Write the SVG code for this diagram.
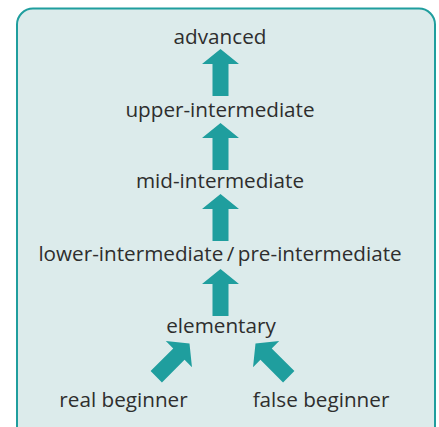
<svg xmlns="http://www.w3.org/2000/svg" width="439" height="427" viewBox="0 0 439 427">
<style>
.lbl{font-family:"Open Sans","Noto Sans","DejaVu Sans",sans-serif;font-size:20.7px;fill:#2e2e2e;text-anchor:middle}
.arr{fill:#1f9e9e}
</style>
<defs>
<path id="up" d="M0,0 L18.5,15 L8,15 L8,47 L-8,47 L-8,15 L-18.5,15 Z"/>
</defs>
<rect x="17" y="8.5" width="418" height="460" rx="16" ry="16" fill="#dcebeb" stroke="#1f9e9e" stroke-width="2"/>
<g id="connectors" class="arr">
<use href="#up" transform="translate(220.5,49)"/>
<use href="#up" transform="translate(220.5,123)"/>
<use href="#up" transform="translate(220.5,194)"/>
<use href="#up" transform="translate(220.5,269)"/>
<use href="#up" transform="translate(189.5,343.5) rotate(45)"/>
<use href="#up" transform="translate(255.5,343.5) rotate(-45)"/>
</g>
<g id="advanced"><text class="lbl" x="220" y="44">advanced</text></g>
<g id="upper-intermediate"><text class="lbl" x="220" y="117">upper-intermediate</text></g>
<g id="mid-intermediate"><text class="lbl" x="220" y="188">mid-intermediate</text></g>
<g id="lower-intermediate"><text class="lbl" x="220" y="261">lower-intermediate&#8201;/&#8201;pre-intermediate</text></g>
<g id="elementary"><text class="lbl" x="221" y="333">elementary</text></g>
<g id="real-beginner"><text class="lbl" x="123.5" y="407">real beginner</text></g>
<g id="false-beginner"><text class="lbl" x="321" y="407">false beginner</text></g>
</svg>
